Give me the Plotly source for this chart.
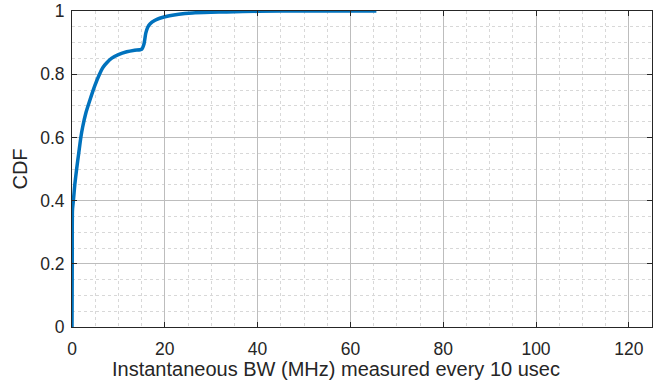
import plotly.graph_objects as go

bw = [0, 0.05, 0.1, 0.3, 0.6, 1.0, 1.45, 1.9, 2.3, 3.0, 3.9, 4.9, 5.9, 6.7, 7.5, 8.5, 10, 11.8,
      13.5, 15, 15.5, 15.9, 16.3, 16.8, 17.8, 18.9, 21, 23, 26, 30, 33.3, 40, 50, 65.6]
cdf = [0, 0.2, 0.37, 0.4, 0.45, 0.5, 0.55, 0.6, 0.633, 0.678, 0.72, 0.763, 0.799, 0.822, 0.836,
       0.85, 0.862, 0.871, 0.876, 0.879, 0.895, 0.93, 0.948, 0.959, 0.97, 0.977, 0.985, 0.99,
       0.994, 0.996, 0.997, 0.999, 1.0, 1.0]

x_ticks = [0, 20, 40, 60, 80, 100, 120]
y_ticks = [0, 0.2, 0.4, 0.6, 0.8, 1]
y_labels = ["0", "0.2", "0.4", "0.6", "0.8", "1"]
x_title = "Instantaneous BW (MHz) measured every 10 usec"
y_title = "CDF"

FONT = "Liberation Sans, Arial, sans-serif"
INK = "#262626"

axis_common = dict(
    showline=True, linecolor=INK, linewidth=1, mirror="allticks",
    ticks="inside", ticklen=5, tickcolor=INK, tickwidth=1,
    showgrid=True, gridcolor="#bdbdbd", gridwidth=1,
    zeroline=False, automargin=False,
    tickfont=dict(family=FONT, size=17.5, color=INK),
)

fig = go.Figure()
fig.add_trace(go.Scatter(x=bw, y=cdf, mode="lines",
                         line=dict(color="#0072BD", width=3.5, shape="spline", smoothing=0.6),
                         showlegend=False))

fig.update_xaxes(range=[0, 125], tickvals=x_ticks, ticklabelstandoff=6,
                 minor=dict(dtick=5, tick0=0, showgrid=True, gridcolor="#d8d8d8", griddash="dot", ticks=""),
                 **axis_common)
fig.update_yaxes(range=[0, 1], tickvals=y_ticks, ticktext=y_labels, ticklabelstandoff=3,
                 title=dict(text=y_title, font=dict(family=FONT, size=20, color=INK), standoff=7),
                 minor=dict(dtick=0.05, tick0=0, showgrid=True, gridcolor="#d8d8d8", griddash="dot", ticks=""),
                 **axis_common)

fig.add_annotation(text=x_title, xref="paper", yref="paper", x=0.456, y=0,
                   xanchor="center", yanchor="middle", yshift=-42, showarrow=False,
                   font=dict(family=FONT, size=20, color=INK))

fig.update_layout(width=660, height=381, margin=dict(l=72, r=8, t=11, b=54),
                  plot_bgcolor="white", paper_bgcolor="white")

fig.write_html("out.html")
